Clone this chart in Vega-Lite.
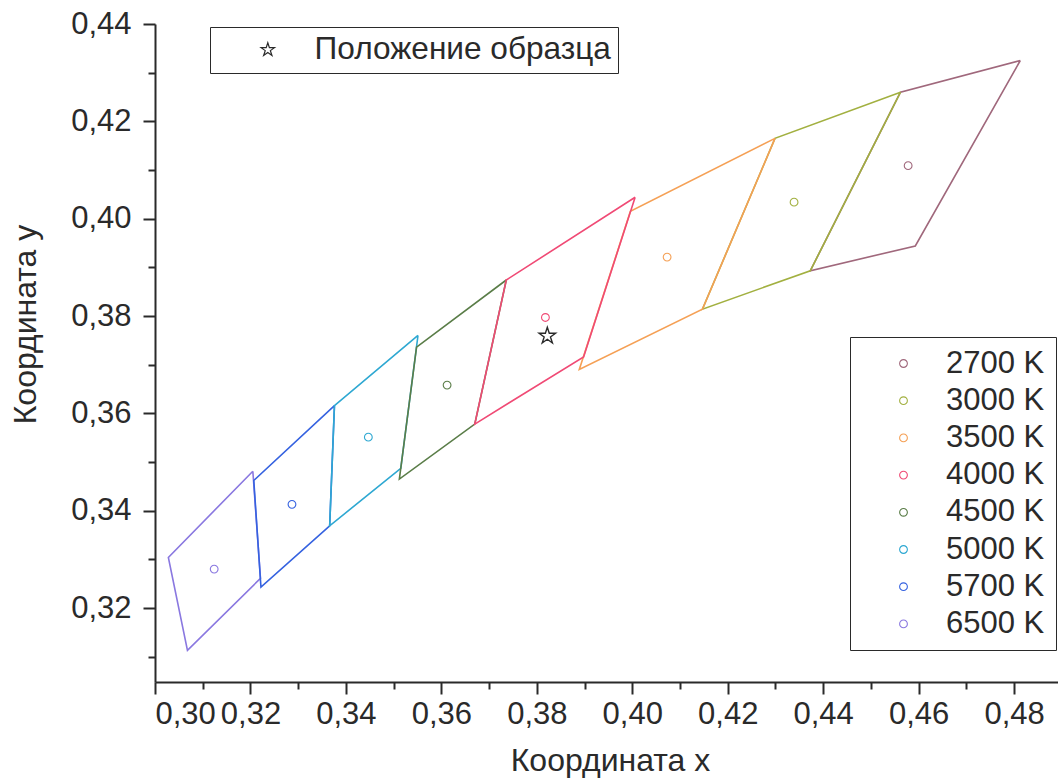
{
  "$schema": "https://vega.github.io/schema/vega-lite/v6.json",
  "width": 903,
  "height": 658,
  "autosize": "none",
  "padding": {"left": 155, "top": 24, "right": 0, "bottom": 98},
  "background": "white",
  "config": {
    "view": {"stroke": null},
    "font": "Liberation Sans",
    "axis": {
      "grid": false,
      "domainColor": "#2a2a2a",
      "domainWidth": 2,
      "tickColor": "#2a2a2a",
      "tickWidth": 2,
      "labelColor": "#2a2a2a",
      "titleColor": "#2a2a2a",
      "labelFont": "Liberation Sans",
      "titleFont": "Liberation Sans",
      "labelFontSize": 31,
      "titleFontSize": 32,
      "titleFontWeight": "normal",
      "labelOverlap": false
    },
    "legend": {
      "labelFont": "Liberation Sans",
      "labelFontSize": 31,
      "labelColor": "#2a2a2a",
      "labelLimit": 600
    }
  },
  "datasets": {
    "quads": [
      {"cct": "2700 K", "i": 0, "x": 0.4813, "y": 0.4325},
      {"cct": "2700 K", "i": 1, "x": 0.4562, "y": 0.4260},
      {"cct": "2700 K", "i": 2, "x": 0.4373, "y": 0.3893},
      {"cct": "2700 K", "i": 3, "x": 0.4593, "y": 0.3944},
      {"cct": "2700 K", "i": 4, "x": 0.4813, "y": 0.4325},
      {"cct": "3000 K", "i": 0, "x": 0.4562, "y": 0.4260},
      {"cct": "3000 K", "i": 1, "x": 0.4299, "y": 0.4165},
      {"cct": "3000 K", "i": 2, "x": 0.4147, "y": 0.3814},
      {"cct": "3000 K", "i": 3, "x": 0.4373, "y": 0.3893},
      {"cct": "3000 K", "i": 4, "x": 0.4562, "y": 0.4260},
      {"cct": "3500 K", "i": 0, "x": 0.4299, "y": 0.4165},
      {"cct": "3500 K", "i": 1, "x": 0.3996, "y": 0.4015},
      {"cct": "3500 K", "i": 2, "x": 0.3889, "y": 0.3690},
      {"cct": "3500 K", "i": 3, "x": 0.4147, "y": 0.3814},
      {"cct": "3500 K", "i": 4, "x": 0.4299, "y": 0.4165},
      {"cct": "6500 K", "i": 0, "x": 0.3205, "y": 0.3481},
      {"cct": "6500 K", "i": 1, "x": 0.3028, "y": 0.3304},
      {"cct": "6500 K", "i": 2, "x": 0.3068, "y": 0.3113},
      {"cct": "6500 K", "i": 3, "x": 0.3221, "y": 0.3261},
      {"cct": "6500 K", "i": 4, "x": 0.3205, "y": 0.3481},
      {"cct": "5700 K", "i": 0, "x": 0.3376, "y": 0.3616},
      {"cct": "5700 K", "i": 1, "x": 0.3207, "y": 0.3462},
      {"cct": "5700 K", "i": 2, "x": 0.3222, "y": 0.3243},
      {"cct": "5700 K", "i": 3, "x": 0.3366, "y": 0.3369},
      {"cct": "5700 K", "i": 4, "x": 0.3376, "y": 0.3616},
      {"cct": "5000 K", "i": 0, "x": 0.3551, "y": 0.3760},
      {"cct": "5000 K", "i": 1, "x": 0.3376, "y": 0.3616},
      {"cct": "5000 K", "i": 2, "x": 0.3366, "y": 0.3369},
      {"cct": "5000 K", "i": 3, "x": 0.3515, "y": 0.3487},
      {"cct": "5000 K", "i": 4, "x": 0.3551, "y": 0.3760},
      {"cct": "4500 K", "i": 0, "x": 0.3736, "y": 0.3874},
      {"cct": "4500 K", "i": 1, "x": 0.3548, "y": 0.3736},
      {"cct": "4500 K", "i": 2, "x": 0.3512, "y": 0.3465},
      {"cct": "4500 K", "i": 3, "x": 0.3670, "y": 0.3578},
      {"cct": "4500 K", "i": 4, "x": 0.3736, "y": 0.3874},
      {"cct": "4000 K", "i": 0, "x": 0.4006, "y": 0.4044},
      {"cct": "4000 K", "i": 1, "x": 0.3736, "y": 0.3874},
      {"cct": "4000 K", "i": 2, "x": 0.3670, "y": 0.3578},
      {"cct": "4000 K", "i": 3, "x": 0.3898, "y": 0.3716},
      {"cct": "4000 K", "i": 4, "x": 0.4006, "y": 0.4044}
    ],
    "centers": [
      {"cct": "2700 K", "x": 0.4578, "y": 0.4109},
      {"cct": "3000 K", "x": 0.4339, "y": 0.4034},
      {"cct": "3500 K", "x": 0.4073, "y": 0.3921},
      {"cct": "4000 K", "x": 0.3818, "y": 0.3797},
      {"cct": "4500 K", "x": 0.3612, "y": 0.3658},
      {"cct": "5000 K", "x": 0.3447, "y": 0.3551},
      {"cct": "5700 K", "x": 0.3287, "y": 0.3413},
      {"cct": "6500 K", "x": 0.3124, "y": 0.3280}
    ],
    "sample": [
      {"label": "Положение образца", "x": 0.3822, "y": 0.3759}
    ]
  },
  "layer": [
    {
      "data": {"name": "quads"},
      "mark": {"type": "line", "strokeWidth": 1.6, "clip": false},
      "encoding": {
        "x": {"field": "x", "type": "quantitative"},
        "y": {"field": "y", "type": "quantitative"},
        "color": {"field": "cct", "type": "nominal"},
        "detail": {"field": "cct"},
        "order": {"field": "i", "type": "quantitative"}
      }
    },
    {
      "data": {"name": "centers"},
      "mark": {"type": "point", "filled": false, "size": 60, "strokeWidth": 1.1, "opacity": 1},
      "encoding": {
        "x": {"field": "x", "type": "quantitative",
          "scale": {"domain": [0.30, 0.4892], "nice": false, "zero": false},
          "axis": {
            "title": "Координата x",
            "values": [0.30,0.31,0.32,0.33,0.34,0.35,0.36,0.37,0.38,0.39,0.40,0.41,0.42,0.43,0.44,0.45,0.46,0.47,0.48],
            "labelExpr": "round(datum.value*100) % 2 == 0 ? replace(format(datum.value, '.2f'), '.', ',') : ''",
            "tickSize": {"condition": {"test": "round(datum.value*100) % 2 == 0", "value": 12}, "value": 7},
            "labelPadding": 5,
            "titleX": 455,
            "titleY": 78,
            "titleBaseline": "middle",
            "titleAlign": "center"
          }
        },
        "y": {"field": "y", "type": "quantitative",
          "scale": {"domain": [0.3048, 0.44], "nice": false, "zero": false},
          "axis": {
            "title": "Координата y",
            "values": [0.31,0.32,0.33,0.34,0.35,0.36,0.37,0.38,0.39,0.40,0.41,0.42,0.43,0.44],
            "labelExpr": "round(datum.value*100) % 2 == 0 ? replace(format(datum.value, '.2f'), '.', ',') : ''",
            "tickSize": {"condition": {"test": "round(datum.value*100) % 2 == 0", "value": 12}, "value": 7},
            "labelPadding": 12,
            "titleX": -130,
            "titleY": 300,
            "titleBaseline": "middle",
            "titleAlign": "center"
          }
        },
        "color": {
          "field": "cct", "type": "nominal",
          "scale": {
            "domain": ["2700 K", "3000 K", "3500 K", "4000 K", "4500 K", "5000 K", "5700 K", "6500 K"],
            "range": ["#a0687c", "#a2b040", "#f5a055", "#f04a75", "#5a7d48", "#2ea8d2", "#3562e0", "#8a78e0"]
          },
          "legend": {
            "title": null,
            "orient": "none",
            "legendX": 695,
            "legendY": 313,
            "padding": 11,
            "symbolType": "circle",
            "symbolSize": 60,
            "symbolStrokeWidth": 1.1,
            "symbolFillColor": "transparent",
            "symbolOffset": 27,
            "labelOffset": 27,
            "rowPadding": 5.2,
            "strokeColor": "#2a2a2a",
            "fillColor": "white"
          }
        }
      }
    },
    {
      "data": {"name": "sample"},
      "mark": {"type": "point", "filled": false, "size": 300, "stroke": "#2a2a2a", "strokeWidth": 1.4, "opacity": 1},
      "encoding": {
        "x": {"field": "x", "type": "quantitative"},
        "y": {"field": "y", "type": "quantitative"},
        "shape": {
          "field": "label", "type": "nominal",
          "scale": {"range": ["M0,-1L0.225,-0.309L0.951,-0.309L0.363,0.118L0.588,0.809L0,0.382L-0.588,0.809L-0.363,0.118L-0.951,-0.309L-0.225,-0.309Z"]},
          "legend": {
            "title": null,
            "orient": "none",
            "legendX": 55,
            "legendY": 3,
            "padding": 7,
            "labelFontSize": 31.6,
            "symbolSize": 200,
            "symbolStrokeColor": "#2a2a2a",
            "symbolFillColor": "transparent",
            "symbolStrokeWidth": 1.2,
            "symbolOffset": 35,
            "labelOffset": 31,
            "strokeColor": "#2a2a2a",
            "fillColor": "white"
          }
        }
      }
    }
  ]
}
